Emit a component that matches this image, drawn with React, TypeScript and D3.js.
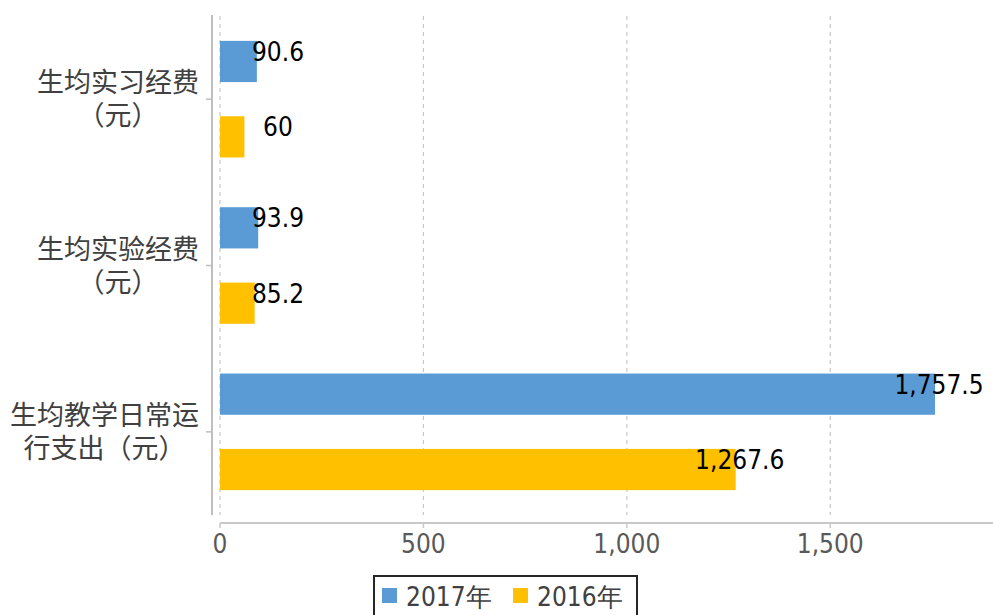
import React from 'react';
import * as d3 from 'd3';

const categoryLines: string[][] = [
  ['生均实习经费', '（元）'],
  ['生均实验经费', '（元）'],
  ['生均教学日常运', '行支出（元）'],
];
const seriesNames = ['2017年', '2016年'];
const values2017 = [90.6, 93.9, 1757.5];
const values2016 = [60, 85.2, 1267.6];
const xTickValues = [0, 500, 1000, 1500];
const seriesColors = ['#5B9BD5', '#FFC000'];

const W = 993;
const H = 615;
const NUM_FONT = '"DejaVu Sans Condensed", "DejaVu Sans", sans-serif';
const CJK_FONT = '"Noto Sans CJK SC", "Noto Sans", sans-serif';

export default function App() {
  const x = d3.scaleLinear().domain([0, 1900]).range([220, 993]);
  const yCat = d3.scaleBand<number>().domain([0, 1, 2]).range([16, 515]).paddingInner(0).paddingOuter(0);
  const ySer = d3
    .scaleBand<string>()
    .domain(seriesNames)
    .range([0, yCat.bandwidth()])
    .paddingInner(0.453)
    .paddingOuter(0.33);
  const seriesValues = [values2017, values2016];
  const fmt = d3.format(',');
  const catFont = 27;
  const labelRight = 199;

  return (
    <svg
      width={W}
      height={H}
      style={{ position: 'absolute', left: 0, top: 0, background: '#fff' }}
    >
      {/* gridlines */}
      {xTickValues.map((t) => (
        <line
          key={'g' + t}
          x1={x(t)}
          x2={x(t)}
          y1={16}
          y2={515}
          stroke="#c8c8c8"
          strokeWidth={1.2}
          strokeDasharray="4,4"
        />
      ))}
      {/* y axis line */}
      <line x1={212} x2={212} y1={15} y2={515} stroke="#bfbfbf" strokeWidth={2} />
      {/* category ticks */}
      {[0, 1, 2, 3].map((i) => {
        if (i === 0 || i === 3) return null;
        return null;
      })}
      {categoryLines.map((_, i) => {
        const cy = (yCat(i) as number) + yCat.bandwidth() / 2;
        return <line key={'ct' + i} x1={206} x2={212} y1={cy} y2={cy} stroke="#bfbfbf" strokeWidth={1.5} />;
      })}
      {/* x axis */}
      <line x1={x(0)} x2={W} y1={523} y2={523} stroke="#c8c8c8" strokeWidth={2} />
      {xTickValues.map((t) => (
        <g key={'t' + t}>
          <line x1={x(t)} x2={x(t)} y1={523} y2={528} stroke="#c8c8c8" strokeWidth={1.5} />
          <text
            x={x(t)}
            y={553}
            textAnchor="middle"
            fontFamily={NUM_FONT}
            fontSize={26}
            fill="#595959"
          >
            {fmt(t)}
          </text>
        </g>
      ))}
      {/* category labels */}
      {categoryLines.map((lines, i) => {
        const cy = (yCat(i) as number) + yCat.bandwidth() / 2;
        const maxChars = d3.max(lines, (l) => l.length) as number;
        const cx = labelRight - (maxChars * catFont) / 2;
        const lh = 33;
        const startY = cy - ((lines.length - 1) * lh) / 2;
        return (
          <text key={'cl' + i} textAnchor="middle" fontFamily={CJK_FONT} fontSize={catFont} fill="#404040">
            {lines.map((l, j) => (
              <tspan key={j} x={cx} y={startY + j * lh} dy="0.36em">
                {l}
              </tspan>
            ))}
          </text>
        );
      })}
      {/* bars */}
      {seriesValues.map((vals, s) =>
        vals.map((v, i) => {
          const y0 = (yCat(i) as number) + (ySer(seriesNames[s]) as number);
          return (
            <rect
              key={'b' + s + '-' + i}
              x={x(0)}
              y={y0}
              width={x(v) - x(0)}
              height={ySer.bandwidth()}
              fill={seriesColors[s]}
            />
          );
        })
      )}
      {/* data labels */}
      {seriesValues.map((vals, s) =>
        vals.map((v, i) => {
          const y0 = (yCat(i) as number) + (ySer(seriesNames[s]) as number);
          const cy = y0 + ySer.bandwidth() / 2 - 10;
          const cx = Math.max(x(v) + 4, x(0) + 58);
          return (
            <text
              key={'l' + s + '-' + i}
              x={cx}
              y={cy}
              dy="0.36em"
              textAnchor="middle"
              fontFamily={NUM_FONT}
              fontSize={26}
              fill="#000"
            >
              {fmt(v)}
            </text>
          );
        })
      )}
      {/* legend */}
      <rect x={374} y={576} width={263} height={50} fill="#fff" stroke="#262626" strokeWidth={2} />
      {seriesNames.map((n, s) => {
        const lx = 382 + s * 131;
        return (
          <g key={'lg' + s}>
            <rect x={lx} y={588} width={15} height={15} fill={seriesColors[s]} />
            <text x={lx + 24} y={606} fontFamily={NUM_FONT} fontSize={26} fill="#404040">
              {n}
            </text>
          </g>
        );
      })}
    </svg>
  );
}
